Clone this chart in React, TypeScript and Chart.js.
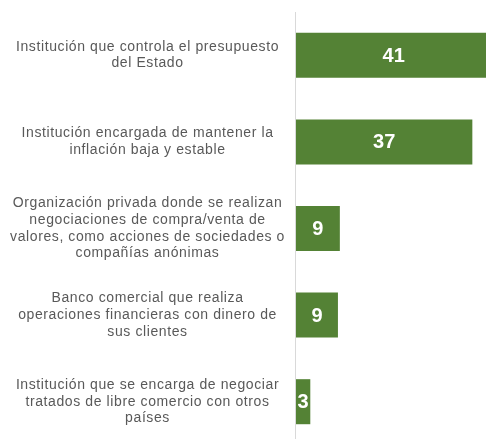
import { useEffect, useRef } from "react";
import { Chart, registerables } from "chart.js";

Chart.register(...registerables);

const categories: string[][] = [
  ["Institución que controla el presupuesto", "del Estado"],
  ["Institución encargada de mantener la", "inflación baja y estable"],
  [
    "Organización privada donde se realizan",
    "negociaciones de compra/venta de",
    "valores, como acciones de sociedades o",
    "compañías anónimas",
  ],
  ["Banco comercial que realiza", "operaciones financieras con dinero de", "sus clientes"],
  ["Institución que se encarga de negociar", "tratados de libre comercio con otros", "países"],
];
const values: number[] = [41, 37, 9.2, 8.8, 3];

const BAR_COLOR = "#548235";
const TEXT_COLOR = "#595959";
const AXIS_COLOR = "#d9d9d9";

const customPlugin = {
  id: "custom",
  beforeUpdate(chart: any) {
    chart.ctx.letterSpacing = "0.6px";
  },
  beforeDraw(chart: any) {
    chart.ctx.letterSpacing = "0.6px";
  },
  beforeDatasetsDraw(chart: any) {
    const { ctx, chartArea } = chart;
    ctx.save();
    ctx.strokeStyle = AXIS_COLOR;
    ctx.lineWidth = 1;
    ctx.beginPath();
    ctx.moveTo(chartArea.left - 0.5, chartArea.top);
    ctx.lineTo(chartArea.left - 0.5, chartArea.bottom);
    ctx.stroke();
    ctx.restore();
  },
  afterDatasetsDraw(chart: any) {
    const { ctx } = chart;
    const meta = chart.getDatasetMeta(0);
    ctx.save();
    ctx.letterSpacing = "0px";
    ctx.fillStyle = "#ffffff";
    ctx.font = "bold 20px 'Liberation Sans', Arial, sans-serif";
    ctx.textAlign = "center";
    ctx.textBaseline = "middle";
    meta.data.forEach((bar: any, i: number) => {
      const x = (bar.x + bar.base) / 2;
      ctx.fillText(String(Math.round(values[i])), x, bar.y + 1);
    });
    ctx.restore();
  },
};

export default function App() {
  const ref = useRef<HTMLCanvasElement>(null);
  useEffect(() => {
    const chart = new Chart(ref.current!, {
      type: "bar",
      data: {
        labels: categories,
        datasets: [
          {
            data: values,
            backgroundColor: BAR_COLOR,
            borderWidth: 0,
            barPercentage: 0.52,
            categoryPercentage: 1,
          },
        ],
      },
      options: {
        indexAxis: "y",
        responsive: false,
        animation: false,
        layout: { padding: { top: 12, bottom: 0, left: 0, right: 0 } },
        plugins: { legend: { display: false }, tooltip: { enabled: false } },
        scales: {
          x: {
            display: false,
            min: 0,
            max: 47,
          },
          y: {
            afterFit: (scale: any) => {
              scale.width = 296;
              scale.paddingTop = 0;
              scale.paddingBottom = 0;
            },
            border: { display: false },
            grid: { display: false, drawTicks: false },
            ticks: {
              crossAlign: "center",
              padding: 11,
              color: TEXT_COLOR,
              font: { family: "'Liberation Sans', Arial, sans-serif", size: 14, lineHeight: 1.19 },
              autoSkip: false,
            },
          },
        },
      },
      plugins: [customPlugin],
    } as any);
    return () => chart.destroy();
  }, []);
  return (
    <div
      style={{
        position: "fixed",
        left: 0,
        top: 0,
        width: 486,
        height: 439,
        overflow: "hidden",
        background: "#ffffff",
      }}
    >
      <canvas ref={ref} width={520} height={445} style={{ display: "block", width: 520, height: 445 }} />
    </div>
  );
}
